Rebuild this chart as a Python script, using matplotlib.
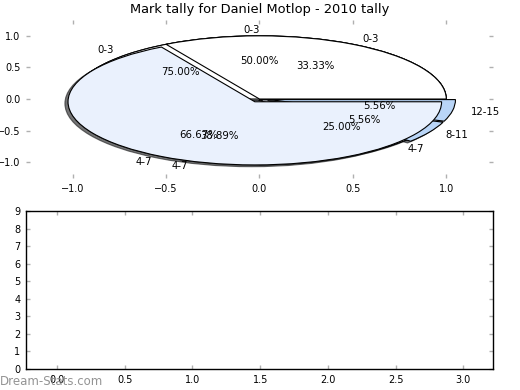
import matplotlib
matplotlib.use("Agg")
import matplotlib.pyplot as plt

# mark tallies, one pie per group (all drawn on the same axes)
labels_a = ["0-3", "4-7"]
counts_a = [3, 1]
labels_b = ["0-3", "4-7", "8-11", "12-15"]
counts_b = [9, 7, 1, 1]
labels_c = ["0-3", "4-7"]
counts_c = [1, 2]

pie_ticks = [-1.0, -0.5, 0.0, 0.5, 1.0]
bottom_yticks = list(range(10))
bottom_xticks = [0.0, 0.5, 1.0, 1.5, 2.0, 2.5, 3.0]

title = "Mark tally for Daniel Motlop - 2010 tally"

WHITE = "#ffffff"
LIGHT = "#eaf1fd"
BRIGHT = "#b9d5f7"
TICK_GREY = "#b0b0b0"


def style_ticks(ax):
    ax.tick_params(direction="in", length=3, width=1, color=TICK_GREY,
                   top=True, right=True, labelsize=7, pad=4)


def main():
    fig = plt.figure(figsize=(5.2, 3.9), dpi=100)
    ax = fig.add_axes([0.05, 0.5436, 0.898, 0.405])
    ax2 = fig.add_axes([0.05, 0.0538, 0.898, 0.405])

    wedge_style = {"edgecolor": "black", "linewidth": 0.8}
    text_style = {"fontsize": 7.3}
    shadow = {"ox": -0.012, "oy": -0.02, "shade": 0.9, "alpha": 0.6}

    ax.pie(counts_a, labels=labels_a, colors=[WHITE, LIGHT], explode=[0, 0.02],
           autopct="%1.2f%%", shadow=shadow, frame=True,
           wedgeprops=wedge_style, textprops=text_style)
    ax.pie(counts_b, labels=labels_b, colors=[WHITE, LIGHT, BRIGHT, BRIGHT],
           explode=[0, 0.02, 0.05, 0.05],
           autopct="%1.2f%%", shadow=shadow, frame=True,
           wedgeprops=wedge_style, textprops=text_style)
    ax.pie(counts_c, labels=labels_c, colors=[WHITE, LIGHT], explode=[0, 0.05],
           autopct="%1.2f%%", shadow=shadow, frame=True,
           wedgeprops=wedge_style, textprops=text_style)

    ax.set_aspect("auto")
    ax.set_xlim(-1.25, 1.25)
    ax.set_ylim(-1.25, 1.25)
    ax.set_xticks(pie_ticks)
    ax.set_yticks(pie_ticks)
    for s in ax.spines.values():
        s.set_visible(False)
    style_ticks(ax)
    ax.set_title(title, fontsize=9.4, pad=5)

    ax2.set_xlim(-0.23, 3.22)
    ax2.set_ylim(0, 9)
    ax2.set_xticks(bottom_xticks)
    ax2.set_yticks(bottom_yticks)
    for s in ax2.spines.values():
        s.set_linewidth(1)
    style_ticks(ax2)

    fig.text(0.0, 0.012, "Dream-Stats.com", color="#888888", fontsize=8.5,
             alpha=0.9)

    fig.savefig("out.png", dpi=100)


if __name__ == "__main__":
    main()
